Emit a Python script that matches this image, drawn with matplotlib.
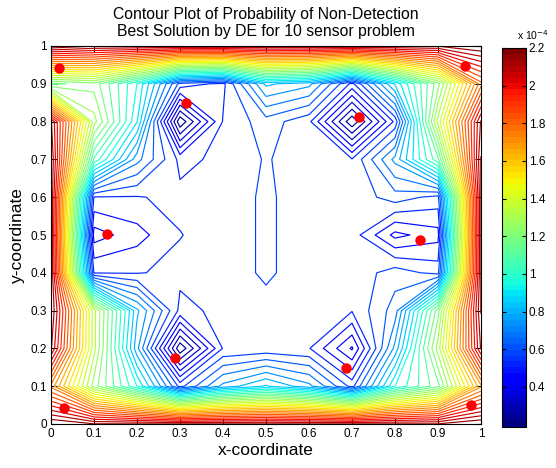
"""Contour plot of probability of non-detection (DE best solution, 10 sensors)."""

import matplotlib
matplotlib.use("Agg")
import matplotlib.pyplot as plt
import numpy as np

plt.rcParams["font.family"] = ["Liberation Sans", "DejaVu Sans"]

# grid coordinates
x_grid = [0.0, 0.1, 0.2, 0.3, 0.4, 0.5, 0.6, 0.7, 0.8, 0.9, 1.0]
y_grid = [0.0, 0.1, 0.2, 0.3, 0.4, 0.5, 0.6, 0.7, 0.8, 0.9, 1.0]

# probability of non-detection, units of 1e-4, one list per row (y = 1.0 ... 0.0)
z_y10 = [2.20, 2.15, 2.15, 2.15, 2.15, 2.15, 2.15, 2.15, 2.15, 2.15, 2.20]
z_y09 = [1.15, 1.20, 0.95, 0.55, 0.50, 0.80, 0.75, 0.50, 0.85, 1.20, 1.80]
z_y08 = [2.10, 1.30, 0.90, 0.20, 0.52, 0.60, 0.53, 0.20, 0.53, 1.35, 2.10]
z_y07 = [2.15, 1.05, 0.70, 0.50, 0.53, 0.575, 0.54, 0.52, 0.75, 1.10, 2.15]
z_y06 = [2.15, 0.512, 0.512, 0.53, 0.54, 0.58, 0.54, 0.53, 0.60, 0.55, 2.15]
z_y05 = [2.15, 0.38, 0.44, 0.514, 0.54, 0.58, 0.54, 0.545, 0.39, 0.44, 2.15]
z_y04 = [2.15, 0.512, 0.512, 0.53, 0.54, 0.58, 0.54, 0.53, 0.60, 0.55, 2.15]
z_y03 = [2.15, 1.35, 0.80, 0.50, 0.53, 0.55, 0.53, 0.52, 0.65, 1.20, 2.15]
z_y02 = [2.10, 1.35, 0.75, 0.20, 0.52, 0.53, 0.52, 0.345, 0.75, 1.30, 2.10]
z_y01 = [1.75, 1.25, 0.95, 0.55, 0.75, 0.85, 0.75, 0.55, 0.95, 1.15, 1.70]
z_y00 = [2.20, 2.15, 2.15, 2.15, 2.15, 2.15, 2.15, 2.15, 2.15, 2.15, 2.20]

# sensor locations of the best solution
sensor_x = [0.019, 0.963, 0.314, 0.716, 0.130, 0.858, 0.288, 0.686, 0.030, 0.977]
sensor_y = [0.942, 0.947, 0.849, 0.812, 0.503, 0.487, 0.175, 0.148, 0.042, 0.050]

cbar_ticks = [0.4, 0.6, 0.8, 1.0, 1.2, 1.4, 1.6, 1.8, 2.0, 2.2]

rows = [z_y00, z_y01, z_y02, z_y03, z_y04, z_y05, z_y06, z_y07, z_y08, z_y09, z_y10]
Z = np.array(rows) * 1e-4
X, Y = np.meshgrid(x_grid, y_grid)

zmin, zmax = 0.19e-4, Z.max()
levels = np.linspace(zmin, zmax, 38)[1:-1]
norm = plt.Normalize(zmin, zmax)

fig = plt.figure(figsize=(5.56, 4.68), dpi=100)
ax = fig.add_axes([51 / 556, 44 / 468, 430 / 556, 378 / 468])
cax = fig.add_axes([502 / 556, 41.5 / 468, 24 / 556, 378.5 / 468])

ax.contour(X, Y, Z, levels=levels, cmap="jet", norm=norm, linewidths=0.85)
ax.plot(sensor_x, sensor_y, "o", color="red", ms=7.5, mec="none")

ax.set_xlim(0, 1)
ax.set_ylim(0, 1)
ticks = np.round(np.arange(0, 1.01, 0.1), 1)
ax.set_xticks(ticks)
ax.set_yticks(ticks)
tick_labels = [f"{t:g}" for t in ticks]
ax.set_xticklabels(tick_labels)
ax.set_yticklabels(tick_labels)
ax.tick_params(direction="in", top=True, right=True, length=4, labelsize=8.5, pad=3)
ax.set_xlabel("x-coordinate", fontsize=12.5, labelpad=2)
ax.set_ylabel("y-coordinate", fontsize=12.5, labelpad=4)
ax.set_title("Contour Plot of Probability of Non-Detection\nBest Solution by DE for 10 sensor problem",
             fontsize=11.3, pad=7, linespacing=1.2)

sm = plt.cm.ScalarMappable(norm=norm, cmap=plt.get_cmap("jet", 64))
cb = fig.colorbar(sm, cax=cax)
cb.set_ticks([t * 1e-4 for t in cbar_ticks])
cb.set_ticklabels([f"{t:g}" for t in cbar_ticks])
cb.ax.tick_params(direction="in", left=True, right=True, length=3, labelsize=8.5, pad=2)
cb.outline.set_linewidth(0.8)
cax.text(1.3, 1.015, r"x 10$^{-4}$", transform=cax.transAxes, ha="center", va="bottom", fontsize=7.5)

fig.savefig("out.png", dpi=100)
